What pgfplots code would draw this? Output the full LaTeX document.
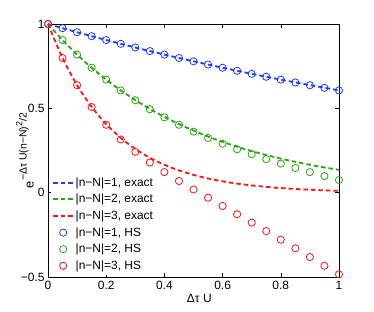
\documentclass[border=0pt]{standalone}
\usepackage{pgfplots}
\pgfplotsset{compat=1.18}
\usepackage{fontspec}
\setmainfont{Liberation Sans}
\definecolor{mblue}{RGB}{30,60,255}
\definecolor{mgreen}{RGB}{40,165,15}
\definecolor{mred}{RGB}{250,20,20}
\newcommand{\lf}{\fontsize{12}{14}\selectfont}
\begin{document}
\begin{tikzpicture}
\begin{axis}[
  scale only axis,
  width=291bp, height=253bp,
  xmin=0, xmax=1, ymin=-0.5, ymax=1,
  xtick={0,0.2,0.4,0.6,0.8,1},
  ytick={-0.5,0,0.5,1},
  xticklabels={0,0.2,0.4,0.6,0.8,1},
  yticklabels={−0.5,0,0.5,1},
  /pgf/number format/assume math mode=true,
  tick align=inside,
  major tick length=4bp,
  axis line style={line width=0.8pt},
  every tick/.style={black, line width=0.5pt},
  tick label style={font=\lf},
  xticklabel style={yshift=-1bp},
  xlabel={Δτ U},
  every axis x label/.style={at={(axis description cs:0.52,-0.083)}, anchor=center, font=\lf},
  ylabel={\fontsize{13}{14}\selectfont e\raisebox{0.55em}{\fontsize{10.5}{12}\selectfont −Δτ U(n−N)\raisebox{0.4em}{\fontsize{9}{10}\selectfont 2}/2}},
  every axis y label/.style={at={(axis description cs:-0.079,0.5)}, rotate=90, anchor=center},
  clip=false,
  legend style={at={(axis description cs:0,0)}, anchor=south west, draw=none, fill=white,
    nodes={font=\lf, inner sep=1.5bp, text height=10bp, text depth=3bp},
    row sep=0.6bp, inner sep=1bp,
    xshift=3bp, yshift=2bp},
  legend cell align=left,
  legend image code/.code={\draw[line width=2bp, mark repeat=2,mark phase=2] plot coordinates {(0bp,0bp)(10bp,0bp)(20bp,0bp)};},
]
% exact curves
\addplot[mblue, line width=1.8bp, dash pattern=on 4.5bp off 3bp, smooth] coordinates {
(0,1)(0.05,0.97531)(0.1,0.95123)(0.15,0.92774)(0.2,0.90484)(0.25,0.88250)(0.3,0.86071)(0.35,0.83946)(0.4,0.81873)(0.45,0.79852)(0.5,0.77880)(0.55,0.75957)(0.6,0.74082)(0.65,0.72253)(0.7,0.70469)(0.75,0.68729)(0.8,0.67032)(0.85,0.65377)(0.9,0.63763)(0.95,0.62189)(1,0.60653)};
\addlegendentry{\lf |n−N|=1, exact}
\addplot[mgreen, line width=1.8bp, dash pattern=on 4.5bp off 3bp, smooth] coordinates {
(0,1)(0.05,0.90484)(0.1,0.81873)(0.15,0.74082)(0.2,0.67032)(0.25,0.60653)(0.3,0.54881)(0.35,0.49659)(0.4,0.44933)(0.45,0.40657)(0.5,0.36788)(0.55,0.33287)(0.6,0.30119)(0.65,0.27253)(0.7,0.24660)(0.75,0.22313)(0.8,0.20190)(0.85,0.18268)(0.9,0.16530)(0.95,0.14957)(1,0.13534)};
\addlegendentry{\lf |n−N|=2, exact}
\addplot[mred, line width=1.8bp, dash pattern=on 4.5bp off 3bp, smooth] coordinates {
(0,1)(0.05,0.79852)(0.1,0.63763)(0.15,0.50916)(0.2,0.40657)(0.25,0.32465)(0.3,0.25924)(0.35,0.20701)(0.4,0.16530)(0.45,0.13199)(0.5,0.10540)(0.55,0.08416)(0.6,0.06721)(0.65,0.05366)(0.7,0.04285)(0.75,0.03422)(0.8,0.02732)(0.85,0.02182)(0.9,0.01742)(0.95,0.01391)(1,0.01111)};
\addlegendentry{\lf |n−N|=3, exact}
% HS points
\addplot[only marks, mark=o, mark size=3.6bp, mblue, mark options={line width=0.8bp, solid}] coordinates {
(0,1)(0.05,0.97531)(0.1,0.95123)(0.15,0.92774)(0.2,0.90484)(0.25,0.88250)(0.3,0.86071)(0.35,0.83946)(0.4,0.81873)(0.45,0.79852)(0.5,0.77879)(0.55,0.75955)(0.6,0.74079)(0.65,0.72249)(0.7,0.70463)(0.75,0.68720)(0.8,0.67012)(0.85,0.65350)(0.9,0.63730)(0.95,0.62150)(1,0.60600)};
\addlegendentry{\lf |n−N|=1, HS}
\addplot[only marks, mark=o, mark size=3.6bp, mgreen, mark options={line width=0.8bp, solid}] coordinates {
(0,1)(0.05,0.9048)(0.1,0.8187)(0.15,0.7408)(0.2,0.6701)(0.25,0.6060)(0.3,0.5479)(0.35,0.4949)(0.4,0.4466)(0.45,0.4025)(0.5,0.3619)(0.55,0.3245)(0.6,0.2899)(0.65,0.2576)(0.7,0.2275)(0.75,0.1991)(0.8,0.1721)(0.85,0.1464)(0.9,0.1218)(0.95,0.0980)(1,0.0748)};
\addlegendentry{\lf |n−N|=2, HS}
\addplot[only marks, mark=o, mark size=3.6bp, mred, mark options={line width=0.8bp, solid}] coordinates {
(0,1)(0.05,0.7985)(0.1,0.6373)(0.15,0.5077)(0.2,0.4025)(0.25,0.3156)(0.3,0.2423)(0.35,0.1787)(0.4,0.1218)(0.45,0.0691)(0.5,0.0189)(0.55,-0.0301)(0.6,-0.0788)(0.65,-0.1278)(0.7,-0.1774)(0.75,-0.2277)(0.8,-0.2787)(0.85,-0.3301)(0.9,-0.3818)(0.95,-0.4333)(1,-0.4844)};
\addlegendentry{\lf |n−N|=3, HS}
\end{axis}
\path ([xshift=-48bp,yshift=-35bp]current axis.south west) rectangle ([xshift=35bp,yshift=24bp]current axis.north east);
\end{tikzpicture}
\end{document}
